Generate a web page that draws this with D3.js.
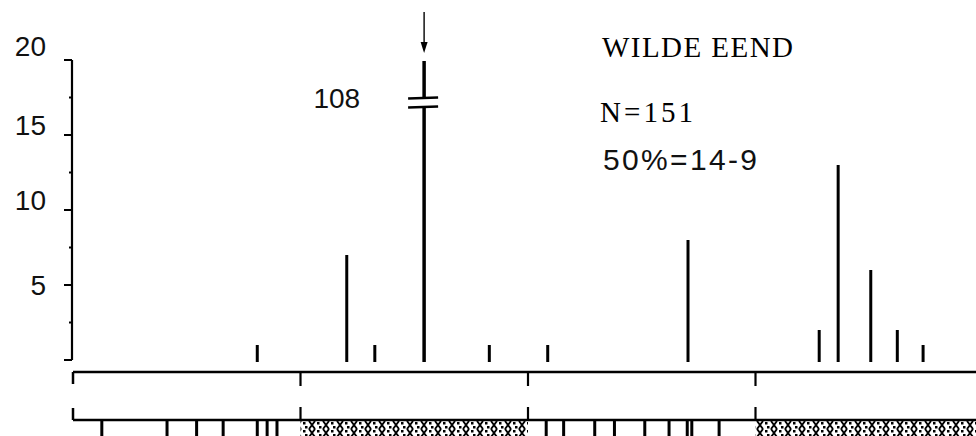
<!DOCTYPE html>
<html>
<head>
<meta charset="utf-8">
<script src="https://cdn.jsdelivr.net/npm/d3@7"></script>
<style>
  body { margin: 0; background: #fff; }
  svg { display: block; }
  .sans { font-family: "Liberation Sans", Arial, sans-serif; }
  .type { font-family: "Liberation Serif", "Times New Roman", serif; }
</style>
</head>
<body>
<div id="chart"></div>
<script>
// Day of the season (x) and number of birds (y) per find
const days   = [24.3, 36.1, 39.8, 46.3, 54.9, 62.6, 81.1, 98.4, 100.9, 105.2, 108.7, 112.1];
const counts = [1, 7, 1, 108, 1, 1, 8, 2, 13, 6, 2, 1];

// y axis ticks
const yLabels = [5, 10, 15, 20];
const yMinor  = [2.5, 7.5, 12.5, 17.5];

// month boundaries on the time strip, and the shaded periods
const monthTicks = [30, 60, 90];
const shaded = [[30, 60], [90, 120]];
// observation days marked in the strip
const obsDays = [3.8, 12.4, 16.3, 19.8, 24.3, 25.6, 26.9,
                 62.4, 64.7, 68.8, 71.4, 75.4, 78.6, 81.0, 81.6, 85.2];

const title = "WILDE EEND";
const nText = "N=151";
const pctText = "50%=14-9";

const W = 976, H = 436;
const svg = d3.select("#chart").append("svg")
    .attr("width", W)
    .attr("height", H);

// hatch pattern for the shaded periods
const defs = svg.append("defs");
const pat = defs.append("pattern")
    .attr("id", "hatch")
    .attr("patternUnits", "userSpaceOnUse")
    .attr("x", 0).attr("y", 421)
    .attr("width", 14).attr("height", 8);
pat.append("path")
    .attr("d", "M1,0 L7,8 M7,0 L1,8")
    .attr("stroke", "#000").attr("stroke-width", 1.9);
pat.append("rect").attr("x", 9).attr("y", 1).attr("width", 2.5).attr("height", 2.5).attr("fill", "#000");
pat.append("rect").attr("x", 11).attr("y", 5).attr("width", 2.5).attr("height", 2.5).attr("fill", "#000");

// scales
const x = d3.scaleLinear().domain([0, 30]).range([73, 300.5]);
const y = d3.scaleLinear().domain([0, 20]).range([360, 60]);
const yMax = 20;
const breakLo = 16.9, breakHi = 17.5;

const ink = "#000";

// ---- y axis
svg.append("line")
    .attr("x1", 72).attr("x2", 72)
    .attr("y1", y(20)).attr("y2", y(0))
    .attr("stroke", ink).attr("stroke-width", 2.2);

svg.selectAll("line.ytick")
    .data([0].concat(yLabels))
  .enter().append("line")
    .attr("class", "ytick")
    .attr("x1", 64).attr("x2", 72)
    .attr("y1", d => y(d)).attr("y2", d => y(d))
    .attr("stroke", ink).attr("stroke-width", 2);

svg.selectAll("line.yminor")
    .data(yMinor)
  .enter().append("line")
    .attr("class", "yminor")
    .attr("x1", 69).attr("x2", 72)
    .attr("y1", d => y(d)).attr("y2", d => y(d))
    .attr("stroke", ink).attr("stroke-width", 2);

svg.selectAll("text.ylab")
    .data(yLabels)
  .enter().append("text")
    .attr("class", "ylab sans")
    .attr("x", 46)
    .attr("y", d => y(d) + (d === 5 ? 10 : d === 20 ? -4 : 0))
    .attr("text-anchor", "end")
    .attr("font-size", 28)
    .attr("fill", "#111")
    .text(d => d);

// ---- bars
const bars = days.map((d, i) => ({ day: d, n: counts[i] }));

svg.selectAll("line.bar")
    .data(bars)
  .enter().append("line")
    .attr("class", "bar")
    .attr("x1", d => x(d.day)).attr("x2", d => x(d.day))
    .attr("y1", y(0) + 2)
    .attr("y2", d => d.n > yMax ? y(breakLo) : y(d.n))
    .attr("stroke", ink)
    .attr("stroke-width", d => d.n > yMax ? 3.5 : 3);

// broken bar above the axis maximum
const big = bars.filter(d => d.n > yMax);
const bg = svg.selectAll("g.big").data(big).enter().append("g").attr("class", "big");
bg.append("line")
    .attr("x1", d => x(d.day)).attr("x2", d => x(d.day))
    .attr("y1", y(breakHi)).attr("y2", y(yMax) + 1)
    .attr("stroke", ink).attr("stroke-width", 3.5);
[breakLo, breakHi].forEach(v => {
  bg.append("line")
      .attr("x1", d => x(d.day) - 16).attr("x2", d => x(d.day) + 14)
      .attr("y1", y(v) + 1).attr("y2", y(v))
      .attr("stroke", ink).attr("stroke-width", 2.5);
});
bg.append("text")
    .attr("class", "sans")
    .attr("x", d => x(d.day) - 64)
    .attr("y", y(17.2) + 6)
    .attr("text-anchor", "end")
    .attr("font-size", 28)
    .attr("fill", "#111")
    .text(d => d.n);
// arrow pointing at the peak
bg.append("line")
    .attr("x1", d => x(d.day)).attr("x2", d => x(d.day))
    .attr("y1", 12).attr("y2", 50)
    .attr("stroke", ink).attr("stroke-width", 1.4);
bg.append("path")
    .attr("d", d => {
      const cx = x(d.day);
      return `M${cx - 3.5},42 L${cx + 3.5},42 L${cx},53 Z`;
    })
    .attr("fill", ink);

// ---- time axis
const axY = 372;
svg.append("line")
    .attr("x1", x(0)).attr("x2", W)
    .attr("y1", axY).attr("y2", axY)
    .attr("stroke", ink).attr("stroke-width", 2.5);
svg.append("line")
    .attr("x1", x(0)).attr("x2", x(0))
    .attr("y1", axY).attr("y2", axY + 12)
    .attr("stroke", ink).attr("stroke-width", 2.5);
svg.selectAll("line.mtick")
    .data(monthTicks)
  .enter().append("line")
    .attr("class", "mtick")
    .attr("x1", d => x(d)).attr("x2", d => x(d))
    .attr("y1", axY).attr("y2", axY + 14)
    .attr("stroke", ink).attr("stroke-width", 2.2);

// ---- strip with observation days
const stY = 420;
svg.selectAll("rect.shade")
    .data(shaded)
  .enter().append("rect")
    .attr("class", "shade")
    .attr("x", d => x(d[0]))
    .attr("width", d => Math.min(x(d[1]), W) - x(d[0]))
    .attr("y", stY)
    .attr("height", H - stY)
    .attr("fill", "url(#hatch)");

svg.append("line")
    .attr("x1", x(0)).attr("x2", W)
    .attr("y1", stY).attr("y2", stY)
    .attr("stroke", ink).attr("stroke-width", 2.5);
svg.append("line")
    .attr("x1", x(0)).attr("x2", x(0))
    .attr("y1", stY - 12).attr("y2", stY)
    .attr("stroke", ink).attr("stroke-width", 2.5);
svg.selectAll("line.stick")
    .data(monthTicks)
  .enter().append("line")
    .attr("class", "stick")
    .attr("x1", d => x(d)).attr("x2", d => x(d))
    .attr("y1", stY - 13).attr("y2", stY)
    .attr("stroke", ink).attr("stroke-width", 2.2);

svg.selectAll("rect.obs")
    .data(obsDays)
  .enter().append("rect")
    .attr("class", "obs")
    .attr("x", d => x(d) - 1.5)
    .attr("y", stY)
    .attr("width", 3)
    .attr("height", H - stY)
    .attr("fill", ink);

// ---- legend text (typewritten in the original)
svg.append("text").attr("class", "type")
    .attr("x", 602).attr("y", 57)
    .attr("font-size", 29)
    .attr("textLength", 191)
    .attr("lengthAdjust", "spacing")
    .text(title);
svg.append("text").attr("class", "type")
    .attr("x", 600).attr("y", 122)
    .attr("font-size", 29)
    .attr("textLength", 93)
    .attr("lengthAdjust", "spacing")
    .text(nText);
svg.append("text").attr("class", "sans")
    .attr("x", 603).attr("y", 170)
    .attr("font-size", 30)
    .attr("textLength", 154)
    .attr("lengthAdjust", "spacing")
    .attr("fill", "#111")
    .text(pctText);
</script>
</body>
</html>
